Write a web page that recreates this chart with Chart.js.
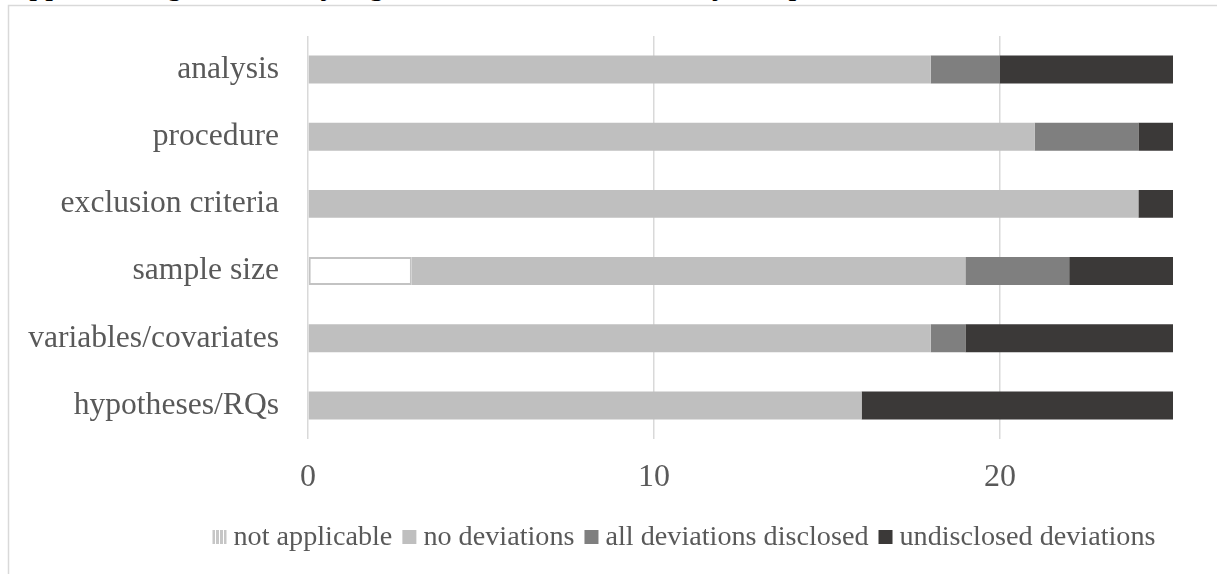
<!DOCTYPE html>
<html>
<head>
<meta charset="utf-8">
<script src="https://cdn.jsdelivr.net/npm/chart.js@4/dist/chart.umd.min.js"></script>
<style>
  html, body { margin: 0; padding: 0; background: #fff; overflow: hidden; }
  #wrap { position: relative; width: 1217px; height: 574px; overflow: hidden; }
  #caption {
    position: absolute; left: 12px; top: -37px; line-height: 40px; white-space: nowrap;
    font-family: 'Liberation Serif', 'Times New Roman', serif; font-style: italic; font-size: 32px; color: #000;
  }
  canvas { position: absolute; left: 0; top: -12px; }
</style>
</head>
<body>
<div id="wrap">
  <div id="caption">Appendix Figure 1. Study registration and deviations by component</div>
  <canvas id="chart" width="1217" height="586"></canvas>
</div>
<script>
// Registration components (top to bottom) and counts of studies per outcome
const categories = ['analysis', 'procedure', 'exclusion criteria', 'sample size', 'variables/covariates', 'hypotheses/RQs'];
const notApplicable = [0, 0, 0, 3, 0, 0];
const noDeviations = [18, 21, 24, 16, 18, 16];
const deviationsDisclosed = [2, 3, 0, 3, 1, 0];
const deviationsUndisclosed = [5, 1, 1, 3, 6, 9];
const xTicks = [0, 10, 20];
const seriesNames = ['not applicable', 'no deviations', 'all deviations disclosed', 'undisclosed deviations'];

const SERIF = "'Liberation Serif', 'Times New Roman', serif";
const TEXT = '#595959';
const SHIFT = 12; // canvas sits 12px above the page top

// Striped swatch used for the "not applicable" legend key
function stripePattern(ctx) {
  const c = document.createElement('canvas');
  c.width = 4; c.height = 4;
  const g = c.getContext('2d');
  g.fillStyle = '#ffffff'; g.fillRect(0, 0, 4, 4);
  g.fillStyle = '#c6c6c6'; g.fillRect(0, 0, 3, 4);
  return ctx.createPattern(c, 'repeat');
}

const frame = {
  id: 'frame',
  beforeDraw(chart) {
    const ctx = chart.ctx;
    ctx.save();
    ctx.strokeStyle = '#d9d9d9';
    ctx.lineWidth = 1.5;
    ctx.beginPath();
    ctx.moveTo(8.5, 620); ctx.lineTo(8.5, 5.5 + SHIFT); ctx.lineTo(1300, 5.5 + SHIFT);
    ctx.stroke();
    ctx.restore();
  }
};

const legendRow = {
  id: 'legendRow',
  afterDraw(chart) {
    const ctx = chart.ctx;
    const box = 14, gapText = 7, gapItem = 10, cy = 537 + SHIFT, centerX = 684;
    ctx.save();
    ctx.font = '28.2px ' + SERIF;
    const items = chart.data.datasets.map(ds => ({ label: ds.label, ds, w: box + gapText + ctx.measureText(ds.label).width }));
    const total = items.reduce((s, it) => s + it.w, 0) + gapItem * (items.length - 1);
    let x = centerX - total / 2;
    ctx.textBaseline = 'middle';
    items.forEach((it, i) => {
      ctx.fillStyle = i === 0 ? stripePattern(ctx) : it.ds.backgroundColor;
      ctx.fillRect(x, cy - box / 2, box, box);
      ctx.fillStyle = TEXT;
      ctx.fillText(it.label, x + box + gapText, cy + 1);
      x += it.w + gapItem;
    });
    ctx.restore();
  }
};

new Chart(document.getElementById('chart'), {
  type: 'bar',
  data: {
    labels: categories,
    datasets: [
      { label: seriesNames[0], data: notApplicable, backgroundColor: '#ffffff', borderColor: '#c3c3c3',
        borderWidth: c => (c.raw > 0 ? 2 : 0), borderSkipped: false },
      { label: seriesNames[1], data: noDeviations, backgroundColor: '#bfbfbf' },
      { label: seriesNames[2], data: deviationsDisclosed, backgroundColor: '#7f7f7f' },
      { label: seriesNames[3], data: deviationsUndisclosed, backgroundColor: '#3b3938' }
    ]
  },
  options: {
    indexAxis: 'y',
    responsive: false,
    animation: false,
    events: [],
    layout: { padding: { left: 10, right: 44, top: 23, bottom: 0 } },
    datasets: { bar: { categoryPercentage: 1, barPercentage: 0.416 } },
    plugins: { legend: { display: false }, tooltip: { enabled: false } },
    scales: {
      x: {
        stacked: true, min: 0, max: 25,
        afterBuildTicks: s => { s.ticks = xTicks.map(v => ({ value: v })); },
        afterFit: s => { s.height = 135; },
        grid: { color: '#d9d9d9', lineWidth: 1.5, drawTicks: false },
        border: { display: false },
        ticks: { padding: 19, color: TEXT, font: { family: SERIF, size: 32 } }
      },
      y: {
        stacked: true,
        afterFit: s => { s.width = 298; },
        grid: { display: false, drawTicks: false },
        border: { display: false },
        ticks: { padding: 29, color: TEXT, font: { family: SERIF, size: 31.6 } }
      }
    }
  },
  plugins: [frame, legendRow]
});
</script>
</body>
</html>
